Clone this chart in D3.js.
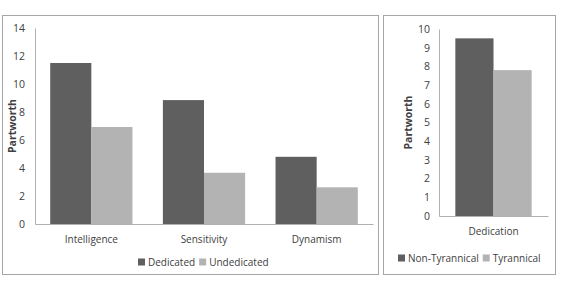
<!DOCTYPE html>
<html><head><meta charset="utf-8">
<script src="https://cdn.jsdelivr.net/npm/d3@7"></script>
<style>body{margin:0;background:#fff}svg{display:block}text{font-family:"Open Sans",sans-serif;fill:#404040}</style>
</head><body>
<svg id="c" width="562" height="283"></svg>
<script>
// Left chart data
const leftCategories = ["Intelligence", "Sensitivity", "Dynamism"];
const leftSeries = ["Dedicated", "Undedicated"];
const dedicatedValues = [11.5, 8.85, 4.8];
const undedicatedValues = [6.93, 3.66, 2.62];
const leftTicks = [0, 2, 4, 6, 8, 10, 12, 14];
// Right chart data
const rightCategories = ["Dedication"];
const rightSeries = ["Non-Tyrannical", "Tyrannical"];
const nonTyrannicalValues = [9.5];
const tyrannicalValues = [7.8];
const rightTicks = [0, 1, 2, 3, 4, 5, 6, 7, 8, 9, 10];

const colors = ["#5f5f5f", "#b3b3b3"];
const svg = d3.select("#c");

function drawChart(cfg) {
  const g = svg.append("g");
  g.append("rect").attr("x", cfg.box[0] + 0.5).attr("y", cfg.box[1] + 0.5)
    .attr("width", cfg.box[2]).attr("height", cfg.box[3])
    .attr("fill", "#fff").attr("stroke", "#a6a6a6").attr("stroke-width", 1);
  const y = d3.scaleLinear().domain([0, cfg.max]).range([cfg.y0, cfg.y1]);
  const x0 = d3.scaleBand().domain(cfg.categories).range([cfg.x0, cfg.x1])
    .paddingInner(cfg.pad).paddingOuter(cfg.pad / 2);
  const x1 = d3.scaleBand().domain(cfg.series).range([0, x0.bandwidth()]);
  const rows = cfg.categories.map((c, i) => ({c, vals: cfg.values.map(v => v[i])}));
  // bars
  const grp = g.selectAll(".grp").data(rows).join("g")
    .attr("transform", d => `translate(${x0(d.c)},0)`);
  grp.selectAll("rect").data(d => d.vals.map((v, k) => ({v, k})))
    .join("rect")
    .attr("x", d => x1(cfg.series[d.k]))
    .attr("width", x1.bandwidth())
    .attr("y", d => y(d.v))
    .attr("height", d => y(0) - y(d.v))
    .attr("fill", d => colors[d.k]);
  // y axis
  const ya = g.append("g").attr("transform", `translate(${cfg.x0},0)`)
    .call(d3.axisLeft(y).tickValues(cfg.ticks).tickSize(0).tickPadding(cfg.tickPad));
  ya.select(".domain").attr("stroke", "#b0b0b0");
  ya.selectAll("text").attr("font-size", 10.5).attr("font-family", '"Open Sans",sans-serif').attr("fill", "#404040");
  // x axis
  const xa = g.append("g").attr("transform", `translate(0,${cfg.y0})`)
    .call(d3.axisBottom(x0).tickSize(0).tickPadding(12));
  xa.select(".domain").attr("stroke", "#b0b0b0");
  xa.selectAll("text").attr("font-size", 10).attr("font-family", '"Open Sans",sans-serif').attr("fill", "#404040");
  // y title
  g.append("text").attr("transform", `translate(${cfg.titleX},${(cfg.y0 + cfg.y1) / 2}) rotate(-90)`)
    .attr("text-anchor", "middle").attr("dominant-baseline", "central")
    .attr("font-size", 10.5).attr("font-weight", "bold").attr("fill", "#262626")
    .text("Partworth");
  // legend
  const leg = g.append("g");
  let lx = cfg.legendX;
  cfg.series.forEach((s, k) => {
    leg.append("rect").attr("x", lx).attr("y", cfg.legendY - 3.5).attr("width", 7).attr("height", 7).attr("fill", colors[k]);
    const t = leg.append("text").attr("x", lx + 10).attr("y", cfg.legendY)
      .attr("dominant-baseline", "central").attr("font-size", 10).text(s);
    lx += 10 + t.node().getComputedTextLength() + 4;
  });
}

drawChart({
  box: [2, 15, 376, 259], categories: leftCategories, series: leftSeries,
  values: [dedicatedValues, undedicatedValues], max: 14, ticks: leftTicks,
  x0: 35, x1: 373, y0: 224, y1: 28, pad: 0.27, tickPad: 10, titleX: 12,
  legendX: 138, legendY: 262
});
drawChart({
  box: [383, 15, 172, 259], categories: rightCategories, series: rightSeries,
  values: [nonTyrannicalValues, tyrannicalValues], max: 10, ticks: rightTicks,
  x0: 439, x1: 548, y0: 216, y1: 29, pad: 0.3, tickPad: 9, titleX: 408,
  legendX: 398, legendY: 258
});
</script>
</body></html>
